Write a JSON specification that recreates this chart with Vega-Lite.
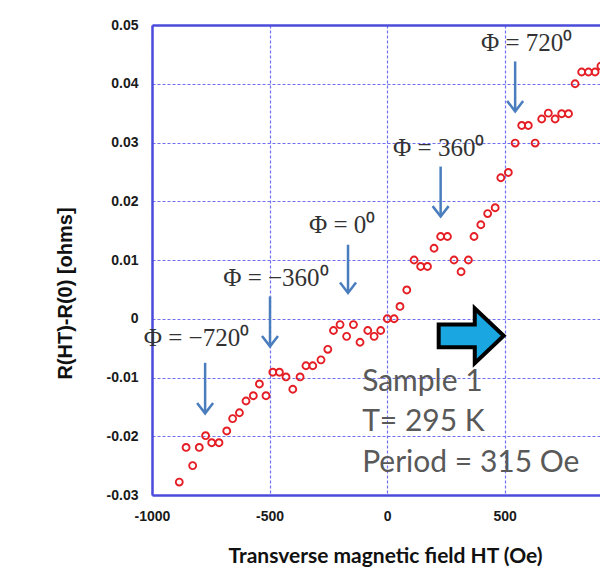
{
  "$schema": "https://vega.github.io/schema/vega-lite/v6.json",
  "width": 448,
  "height": 470,
  "autosize": {"type": "none"},
  "padding": {"left": 152, "top": 25, "right": 0, "bottom": 76},
  "background": "white",
  "config": {
    "view": {"stroke": null},
    "axis": {
      "domainColor": "#4b4bdc",
      "domainWidth": 2.5,
      "gridColor": "#7070ee",
      "gridDash": [3, 2],
      "gridWidth": 1.2,
      "gridOpacity": 1,
      "ticks": false,
      "labelFont": "Liberation Sans",
      "labelFontWeight": "bold",
      "labelFontSize": 14,
      "labelColor": "#1a1a1a",
      "titleColor": "#111111",
      "titleFontWeight": "bold"
    }
  },
  "datasets": {
    "pts": [
      {"H": -884, "dR": -0.0278}, {"H": -855, "dR": -0.0219}, {"H": -827, "dR": -0.025},
      {"H": -799, "dR": -0.0219}, {"H": -772, "dR": -0.0199}, {"H": -746, "dR": -0.0211},
      {"H": -715, "dR": -0.0211}, {"H": -682, "dR": -0.0191}, {"H": -657, "dR": -0.017},
      {"H": -628, "dR": -0.016}, {"H": -600, "dR": -0.014}, {"H": -569, "dR": -0.0131},
      {"H": -543, "dR": -0.0111}, {"H": -515, "dR": -0.0131}, {"H": -486, "dR": -0.0091},
      {"H": -458, "dR": -0.0091}, {"H": -430, "dR": -0.0099}, {"H": -401, "dR": -0.012},
      {"H": -370, "dR": -0.0099}, {"H": -345, "dR": -0.008}, {"H": -316, "dR": -0.008},
      {"H": -281, "dR": -0.007}, {"H": -252, "dR": -0.0052}, {"H": -228, "dR": -0.002},
      {"H": -200, "dR": -0.001}, {"H": -172, "dR": -0.003}, {"H": -143, "dR": -0.001},
      {"H": -115, "dR": -0.004}, {"H": -82, "dR": -0.002}, {"H": -55, "dR": -0.003},
      {"H": -27, "dR": -0.002}, {"H": 1, "dR": 0}, {"H": 30, "dR": 0},
      {"H": 55, "dR": 0.0021}, {"H": 84, "dR": 0.0049}, {"H": 115, "dR": 0.01},
      {"H": 143, "dR": 0.0089}, {"H": 172, "dR": 0.0089}, {"H": 200, "dR": 0.012},
      {"H": 228, "dR": 0.014}, {"H": 257, "dR": 0.014}, {"H": 285, "dR": 0.01},
      {"H": 315, "dR": 0.008}, {"H": 346, "dR": 0.01}, {"H": 370, "dR": 0.014},
      {"H": 399, "dR": 0.016}, {"H": 428, "dR": 0.0179}, {"H": 460, "dR": 0.0189},
      {"H": 484, "dR": 0.024}, {"H": 516, "dR": 0.0249}, {"H": 545, "dR": 0.0299},
      {"H": 573, "dR": 0.0329}, {"H": 601, "dR": 0.0329}, {"H": 630, "dR": 0.0299},
      {"H": 658, "dR": 0.034}, {"H": 686, "dR": 0.035}, {"H": 715, "dR": 0.034},
      {"H": 743, "dR": 0.0349}, {"H": 772, "dR": 0.0349}, {"H": 800, "dR": 0.04},
      {"H": 828, "dR": 0.042}, {"H": 857, "dR": 0.042}, {"H": 885, "dR": 0.042},
      {"H": 910, "dR": 0.043}
    ],
    "arrows": [
      {"x": -774, "top": -0.0075, "tip": -0.0161},
      {"x": -498, "top": 0.0038, "tip": -0.0047},
      {"x": -166, "top": 0.0126, "tip": 0.0044},
      {"x": 228, "top": 0.0259, "tip": 0.0174},
      {"x": 545, "top": 0.0438, "tip": 0.0353}
    ],
    "phi": [
      {"x": -811, "y": -0.0032, "label": "Φ = −720⁰"},
      {"x": -473, "y": 0.007, "label": "Φ = −360⁰"},
      {"x": -191, "y": 0.016, "label": "Φ = 0⁰"},
      {"x": 220, "y": 0.0291, "label": "Φ = 360⁰"},
      {"x": 594, "y": 0.047, "label": "Φ = 720⁰"}
    ],
    "notes": [
      {"x": -106, "y": -0.0107, "label": "Sample 1"},
      {"x": -106, "y": -0.0175, "label": "T= 295 K"},
      {"x": -106, "y": -0.0245, "label": "Period = 315 Oe"}
    ],
    "bigarrow": [{"x": 358, "y": -0.0029}]
  },
  "resolve": {"axis": {"x": "independent"}},
  "layer": [
    {
      "data": {"name": "pts"},
      "mark": {"type": "point", "shape": "circle", "filled": false, "color": "#e41e24", "strokeWidth": 1.9, "size": 48, "opacity": 1, "clip": true},
      "encoding": {
        "x": {
          "field": "H", "type": "quantitative",
          "scale": {"domain": [-1000, 906], "nice": false, "zero": false},
          "axis": {
            "values": [-1000, -500, 0, 500],
            "labelExpr": "replace(format(datum.value,'d'),'−','-')",
            "labelPadding": 14,
            "labelFlush": false,
            "title": "Transverse magnetic field HT (Oe)",
            "titleFont": "Lato",
            "titleFontSize": 21,
            "titleX": 233,
            "titleY": 61,
            "titleBaseline": "middle"
          }
        },
        "y": {
          "field": "dR", "type": "quantitative",
          "scale": {"domain": [-0.03, 0.05], "nice": false, "zero": false},
          "axis": {
            "values": [-0.03, -0.02, -0.01, 0, 0.01, 0.02, 0.03, 0.04, 0.05],
            "labelExpr": "replace(format(datum.value,'.2~f'),'−','-')",
            "labelPadding": 14,
            "labelFlush": false,
            "title": "R(HT)-R(0) [ohms]",
            "titleFont": "Liberation Sans",
            "titleFontSize": 20,
            "titleX": -87,
            "titleY": 268,
            "titleAngle": 270,
            "titleAlign": "center",
            "titleBaseline": "middle"
          }
        }
      }
    },
    {
      "data": {"name": "pts"},
      "mark": {"type": "point", "opacity": 0},
      "encoding": {
        "x": {"field": "H", "type": "quantitative", "axis": {"orient": "top", "labels": false, "grid": false, "ticks": false, "title": null}},
        "y": {"field": "dR", "type": "quantitative"}
      }
    },
    {
      "data": {"name": "arrows"},
      "mark": {"type": "rule", "color": "#4a7dbd", "strokeWidth": 2.5},
      "encoding": {
        "x": {"field": "x", "type": "quantitative", "axis": null},
        "y": {"field": "top", "type": "quantitative"},
        "y2": {"field": "tip"}
      }
    },
    {
      "data": {"name": "arrows"},
      "mark": {"type": "point", "shape": "M-1,-1.3L0,0L1,-1.3", "filled": false, "color": "#4a7dbd", "strokeWidth": 2.5, "size": 256, "opacity": 1},
      "encoding": {
        "x": {"field": "x", "type": "quantitative", "axis": null},
        "y": {"field": "tip", "type": "quantitative"}
      }
    },
    {
      "data": {"name": "phi"},
      "mark": {"type": "text", "font": "Liberation Serif", "fontSize": 25, "color": "#333333", "align": "center", "baseline": "middle"},
      "encoding": {
        "x": {"field": "x", "type": "quantitative", "axis": null},
        "y": {"field": "y", "type": "quantitative"},
        "text": {"field": "label"}
      }
    },
    {
      "data": {"name": "notes"},
      "mark": {"type": "text", "font": "Lato", "fontSize": 30, "color": "#595959", "align": "left", "baseline": "middle"},
      "encoding": {
        "x": {"field": "x", "type": "quantitative", "axis": null},
        "y": {"field": "y", "type": "quantitative"},
        "text": {"field": "label"}
      }
    },
    {
      "data": {"name": "bigarrow"},
      "mark": {"type": "point", "shape": "M-1,-0.35L0.11,-0.35L0.11,-0.84L1,0L0.11,0.84L0.11,0.35L-1,0.35Z", "filled": true, "fill": "#1aa6e0", "stroke": "#000000", "strokeWidth": 4, "strokeJoin": "miter", "size": 4225, "opacity": 1, "fillOpacity": 1},
      "encoding": {
        "x": {"field": "x", "type": "quantitative", "axis": null},
        "y": {"field": "y", "type": "quantitative"}
      }
    }
  ]
}
